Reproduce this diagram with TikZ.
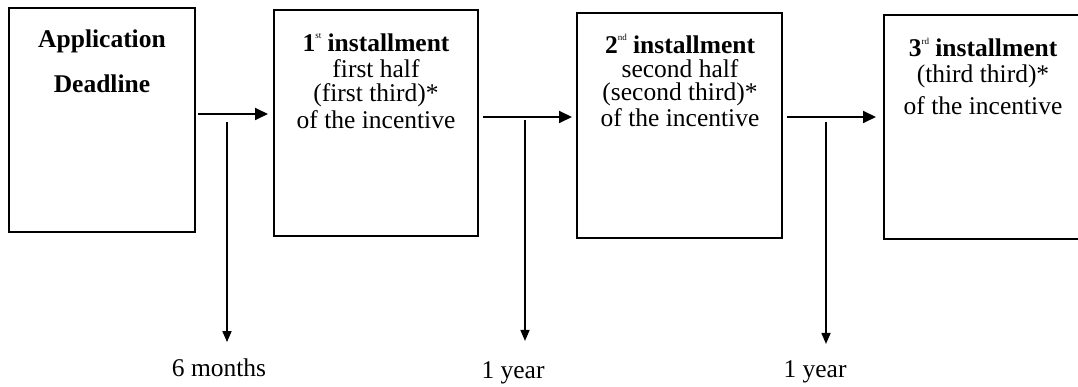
\documentclass[tikz,border=0pt]{standalone}
\usepackage{fontspec}
\setmainfont{Liberation Serif}
\usetikzlibrary{arrows.meta}
\newcommand{\supx}[1]{\raisebox{0.5em}{\fontsize{9}{9}\selectfont\mdseries #1}}
\begin{document}
\begin{tikzpicture}[x=1pt,y=-1pt,
  box/.style={draw=black,line width=2pt,inner sep=0pt,outer sep=0pt,anchor=north west},
  txt/.style={inner sep=0pt,anchor=base,font=\fontsize{25.5}{26}\selectfont},
  btxt/.style={txt,font=\fontsize{25.5}{26}\selectfont\bfseries},
  conn/.style={line width=1.8pt,-{Triangle[length=13pt,width=12pt]}},
  vconn/.style={line width=1.6pt,-{Triangle[length=11pt,width=9pt]}}]
\useasboundingbox (0,0) rectangle (1078,387);
\clip (0,0) rectangle (1078,387);
% boxes
\node[box,minimum width=186pt,minimum height=224pt] (b1) at (9,8) {};
\node[box,minimum width=204pt,minimum height=226pt] (b2) at (274,10) {};
\node[box,minimum width=205pt,minimum height=225pt] (b3) at (577,13) {};
\node[box,minimum width=198pt,minimum height=224pt] (b4) at (884,15) {};
% box texts
\node[btxt] (b1a) at (102,48) {Application};
\node[btxt] (b1b) at (102,93) {Deadline};
\node[btxt] (b2a) at (376,51.5) {1\supx{st} installment};
\node[txt] (b2b) at (376,77.5) {first half};
\node[txt] (b2c) at (376,102) {(first third)*};
\node[txt] (b2d) at (376,129) {of the incentive};
\node[btxt] (b3a) at (680,53.5) {2\supx{nd} installment};
\node[txt] (b3b) at (680,77.5) {second half};
\node[txt] (b3c) at (680,101) {(second third)*};
\node[txt] (b3d) at (680,127) {of the incentive};
\node[btxt] (b4a) at (983,57) {3\supx{rd} installment};
\node[txt] (b4b) at (983,83) {(third third)*};
\node[txt] (b4c) at (983,115) {of the incentive};
% bottom labels
\node[txt] (t1) at (219,376) {6 months};
\node[txt] (t2) at (513,378) {1 year};
\node[txt] (t3) at (815,377) {1 year};
% connector start points
\coordinate (a1) at (198,114);
\coordinate (a2) at (483,117);
\coordinate (a3) at (787,117);
\coordinate (v1) at (227,122);
\coordinate (v2) at (525,120);
\coordinate (v3) at (826,122);
% horizontal arrows
\draw[conn,shorten >=6pt] (a1) -- (a1 -| b2.west);
\draw[conn,shorten >=5pt] (a2) -- (a2 -| b3.west);
\draw[conn,shorten >=8pt] (a3) -- (a3 -| b4.west);
% vertical arrows
\draw[vconn,shorten >=16pt] (v1) -- (v1 |- t1.north);
\draw[vconn,shorten >=20pt] (v2) -- (v2 |- t2.north);
\draw[vconn,shorten >=16pt] (v3) -- (v3 |- t3.north);
\end{tikzpicture}
\end{document}
